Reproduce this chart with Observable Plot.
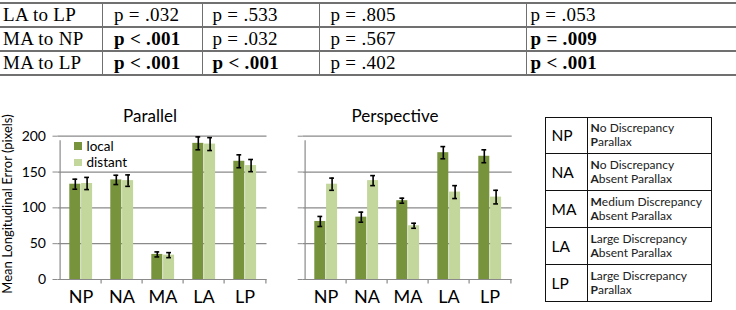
<!DOCTYPE html>
<html>
<head>
<meta charset="utf-8">
<script src="https://cdn.jsdelivr.net/npm/d3@7"></script>
<script src="https://cdn.jsdelivr.net/npm/@observablehq/plot@0.6"></script>
<style>
  html, body { margin: 0; padding: 0; background: #fff; }
  #root { position: relative; width: 736px; height: 310px; overflow: hidden; background: #fff; font-family: Lato, "Open Sans", sans-serif; }
  #ptable { position: absolute; left: 0; top: 2px; border-collapse: collapse; font-family: "Liberation Serif", serif; font-size: 19px; letter-spacing: 0.3px; color: #000; table-layout: fixed; }
  #ptable td { height: 22px; padding: 0; white-space: nowrap; vertical-align: middle; border-top: 2px solid #707070; border-bottom: 2px solid #707070; border-left: 1.5px solid #707070; line-height: 22px; }
  #ptable td:first-child { border-left: none; }
  #legtable { position: absolute; left: 544.5px; top: 116.5px; border-collapse: collapse; table-layout: fixed; font-family: Lato, sans-serif; color: #000; }
  #legtable td { border: 1.3px solid #111; height: 35.9px; padding: 0; vertical-align: middle; }
  .title { position: absolute; font-size: 17px; transform: translate(-50%, -50%); white-space: nowrap; }
  .ylab { position: absolute; font-size: 13px; white-space: nowrap; transform: translate(-50%, -50%) rotate(-90deg); }
  .leg { position: absolute; font-size: 13.5px; height: 16px; line-height: 16px; white-space: nowrap; display: flex; align-items: center; }
  .sw { display: inline-block; width: 7.5px; height: 7.5px; margin-right: 5px; }
</style>
</head>
<body>
<div id="root"></div>
<script>
// ---------- data ----------
const categories = ["NP", "NA", "MA", "LA", "LP"];
const series = ["local", "distant"];

const parallelLocal      = [133, 139, 35, 190, 165];
const parallelLocalErr   = [7, 6.5, 3.5, 9, 9];
const parallelDistant    = [134, 138, 34, 189, 159];
const parallelDistantErr = [8.5, 8, 3.5, 9, 8.5];

const perspectiveLocal      = [81, 87, 110, 177, 172];
const perspectiveLocalErr   = [7, 7, 3.5, 8.5, 9];
const perspectiveDistant    = [133, 138, 75, 122, 115];
const perspectiveDistantErr = [8.5, 7, 3.5, 9, 9.5];

const yTicks = [0, 50, 100, 150, 200];
const yLabel = "Mean Longitudinal Error (pixels)";
const panelTitles = ["Parallel", "Perspective"];

const compRows = ["LA to LP", "MA to NP", "MA to LP"];
const compValues = [
  ["p = .032", "p = .533", "p = .805", "p = .053"],
  ["p < .001", "p = .032", "p = .567", "p = .009"],
  ["p < .001", "p < .001", "p = .402", "p < .001"]
];
const compBold = [
  [false, false, false, false],
  [true, false, false, true],
  [true, true, false, true]
];

const legendLines = [
  ["No Discrepancy", "Parallax"],
  ["No Discrepancy", "Absent Parallax"],
  ["Medium Discrepancy", "Absent Parallax"],
  ["Large Discrepancy", "Absent Parallax"],
  ["Large Discrepancy", "Parallax"]
];

// ---------- styles ----------
const darkGreen = "#77933C";
const lightGreen = "#C3D69B";
const gridColor = "#8a8a8a";

const root = document.getElementById("root");

// ---------- top p-value table ----------
const colWidths = [102, 100, 117, 207, 215];
const colPad = [3, 11.5, 10, 11, 4];
const t = document.createElement("table");
t.id = "ptable";
const cg = document.createElement("colgroup");
colWidths.forEach(w => { const c = document.createElement("col"); c.style.width = w + "px"; cg.appendChild(c); });
t.appendChild(cg);
t.style.width = d3.sum(colWidths) + "px";
compRows.forEach((r, i) => {
  const tr = document.createElement("tr");
  const cells = [r, ...compValues[i]];
  cells.forEach((txt, j) => {
    const td = document.createElement("td");
    td.style.paddingLeft = colPad[j] + "px";
    td.textContent = txt;
    if (j > 0 && compBold[i][j - 1]) td.style.fontWeight = "bold";
    tr.appendChild(td);
  });
  t.appendChild(tr);
});
root.appendChild(t);

// ---------- charts ----------
function chart(local, localErr, distant, distantErr, width, ml, mr, showLabels) {
  const step = (width - ml - mr) / categories.length;
  const rows = categories.map((c, i) => ({
    cat: c, local: local[i], le: localErr[i], distant: distant[i], de: distantErr[i]
  }));
  const barW = 11.8, barStart = 9.3;
  const lc = barStart + barW / 2, dc = barStart + barW * 1.5; // centres from band start
  const cap = 2.8;
  const errMarks = (key, errKey, c) => [
    Plot.ruleX(rows, {x: "cat", y1: d => d[key] - d[errKey], y2: d => d[key] + d[errKey], dx: c - step / 2, stroke: "#000", strokeWidth: 1.6}),
    Plot.tickY(rows, {x: "cat", y: d => d[key] + d[errKey], insetLeft: c - cap, insetRight: step - c - cap, stroke: "#000", strokeWidth: 1.6}),
    Plot.tickY(rows, {x: "cat", y: d => d[key] - d[errKey], insetLeft: c - cap, insetRight: step - c - cap, stroke: "#000", strokeWidth: 1.6})
  ];
  return Plot.plot({
    width, height: 210,
    marginLeft: ml, marginRight: mr, marginTop: 35.7, marginBottom: 31,
    style: {fontFamily: "Lato, sans-serif", background: "transparent", color: "#000"},
    x: {type: "band", domain: categories, padding: 0},
    y: {domain: [0, 200]},
    marks: [
      Plot.gridY({ticks: yTicks, stroke: gridColor, strokeOpacity: 1, strokeWidth: 1.2}),
      Plot.axisY({ticks: yTicks, tickSize: 5, tickPadding: 7, fontSize: 14, label: null, stroke: gridColor, fill: "#000",
        tickFormat: showLabels ? d => d : () => ""}),
      Plot.barY(rows, {x: "cat", y: "local", fill: darkGreen, insetLeft: barStart, insetRight: step - barStart - barW}),
      Plot.barY(rows, {x: "cat", y: "distant", fill: lightGreen, insetLeft: barStart + barW, insetRight: step - barStart - 2 * barW}),
      ...errMarks("local", "le", lc),
      ...errMarks("distant", "de", dc),
      // vertical axis line
      Plot.ruleX([categories[0]], {dx: -step / 2, y1: 0, y2: 200, insetBottom: -4.5, stroke: gridColor, strokeWidth: 1.2}),
      // category boundary ticks
      Plot.ruleX(categories.slice(1), {dx: -step / 2, y1: 0, y2: 0, insetBottom: -4.5, stroke: gridColor, strokeWidth: 1.2}),
      Plot.ruleX([categories[categories.length - 1]], {dx: step / 2, y1: 0, y2: 0, insetBottom: -4.5, stroke: gridColor, strokeWidth: 1.2}),
      Plot.axisX({tickSize: 0, tickPadding: 11, fontSize: 18, label: null, fill: "#000"})
    ]
  });
}

const c1 = chart(parallelLocal, parallelLocalErr, parallelDistant, parallelDistantErr, 275, 57.5, 8.5, true);
c1.style.position = "absolute"; c1.style.left = "0px"; c1.style.top = "100px";
root.appendChild(c1);

const c2 = chart(perspectiveLocal, perspectiveLocalErr, perspectiveDistant, perspectiveDistantErr, 240, 22.7, 8.3, false);
c2.style.position = "absolute"; c2.style.left = "280px"; c2.style.top = "100px";
root.appendChild(c2);

// titles
[[panelTitles[0], 150], [panelTitles[1], 395]].forEach(([txt, x]) => {
  const d = document.createElement("div");
  d.className = "title"; d.textContent = txt;
  d.style.left = x + "px"; d.style.top = "115px";
  root.appendChild(d);
});

// y label
const yl = document.createElement("div");
yl.className = "ylab"; yl.textContent = yLabel;
yl.style.left = "6.5px"; yl.style.top = "204px";
root.appendChild(yl);

// series legend
series.forEach((s, i) => {
  const d = document.createElement("div");
  d.className = "leg";
  d.style.left = "74px"; d.style.top = (138 + i * 16.3) + "px";
  const sw = document.createElement("span");
  sw.className = "sw"; sw.style.background = i === 0 ? darkGreen : lightGreen;
  d.appendChild(sw);
  d.appendChild(document.createTextNode(s));
  root.appendChild(d);
});

// ---------- abbreviation legend table ----------
const lt = document.createElement("table");
lt.id = "legtable";
const lcg = document.createElement("colgroup");
[42, 124].forEach(w => { const c = document.createElement("col"); c.style.width = w + "px"; lcg.appendChild(c); });
lt.appendChild(lcg);
lt.style.width = "166px";
categories.forEach((c, i) => {
  const tr = document.createElement("tr");
  const a = document.createElement("td");
  a.textContent = c;
  a.style.fontSize = "15.5px"; a.style.paddingLeft = "6px";
  const b = document.createElement("td");
  b.style.fontSize = "12px"; b.style.paddingLeft = "3px"; b.style.lineHeight = "14.4px"; b.style.color = "#222";
  b.innerHTML = legendLines[i].map(line => "<b>" + line[0] + "</b>" + line.slice(1)).join("<br>");
  tr.appendChild(a); tr.appendChild(b);
  lt.appendChild(tr);
});
root.appendChild(lt);
</script>
</body>
</html>
